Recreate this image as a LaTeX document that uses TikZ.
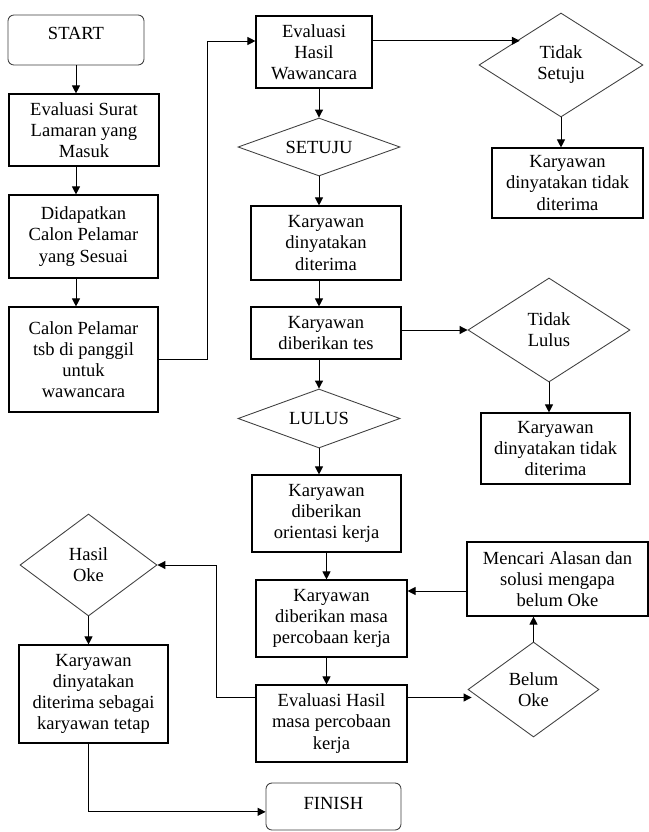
\documentclass[tikz,border=0pt]{standalone}
\usepackage{fontspec}
\setmainfont{Liberation Serif}
\usetikzlibrary{arrows.meta,shapes.geometric}
\tikzset{
  sz/.style 2 args={minimum width=#1*0.75pt, minimum height=#2*0.75pt},
  txt/.style={font=\fontsize{13.9}{15.8}\selectfont, align=center, inner sep=0pt},
  box/.style={txt, draw=black, line width=0.85pt, rectangle},
  term/.style={txt, draw=black!75, line width=0.65pt, rectangle, rounded corners=4.5pt},
  dia/.style={txt, draw=black!75, line width=0.65pt, diamond, shape aspect=2},
  arr/.style={line width=0.75pt, -{Triangle[length=6pt,width=6pt]}},
  ln/.style={line width=0.75pt}
}
\begin{document}
\begin{tikzpicture}[x=0.75pt, y=-0.75pt]
\fill[white] (0,0) rectangle (649,832);
\useasboundingbox (0,0) rectangle (649,832);

% left column
\node[term, sz={136}{50}, text height=9pt, text depth=10.5pt] (start) at (76,40) {START};
\node[box, sz={150}{72}] (b1) at (84,130) {Evaluasi Surat\\Lamaran yang\\Masuk};
\node[box, sz={149}{83}] (b2) at (83.5,236.5) {Didapatkan\\Calon Pelamar\\yang Sesuai};
\node[box, sz={149}{105}] (b3) at (83.5,359.5) {Calon Pelamar\\tsb di panggil\\untuk\\wawancara};

% middle column
\node[box, sz={116}{72}] (b4) at (314,52) {Evaluasi\\Hasil\\Wawancara};
\node[dia, sz={162}{58}] (setuju) at (319,147) {SETUJU};
\node[box, sz={150}{74}] (b5) at (326,243) {Karyawan\\dinyatakan\\diterima};
\node[box, sz={150}{52}] (b6) at (326,333) {Karyawan\\diberikan tes};
\node[dia, sz={162}{59}] (lulus) at (319,418.5) {LULUS};
\node[box, sz={149}{77}] (b7) at (326.5,513.5) {Karyawan\\diberikan\\orientasi kerja};
\node[box, sz={151}{77}] (b8) at (331.5,618.5) {Karyawan\\diberikan masa\\percobaan kerja};
\node[box, sz={151}{77}] (b9) at (331.5,723.5) {Evaluasi Hasil\\masa percobaan\\kerja};
\node[term, sz={135}{47}, text height=9pt, text depth=5.2pt] (fin) at (333.5,806.5) {FINISH};

% right column
\node[dia, sz={164}{104}] (ts) at (561,65) {Tidak\\Setuju};
\node[box, sz={151}{70}] (kt1) at (567.5,183) {Karyawan\\dinyatakan tidak\\diterima};
\node[dia, sz={162}{104}] (tl) at (549,330) {Tidak\\Lulus};
\node[box, sz={149}{71}] (kt2) at (555.5,448.5) {Karyawan\\dinyatakan tidak\\diterima};
\node[box, sz={181}{74}] (mc) at (557.5,579) {Mencari Alasan dan\\solusi mengapa\\belum Oke};
\node[dia, sz={131}{95}] (bo) at (533.5,689.5) {Belum\\Oke};

% bottom left
\node[dia, sz={137}{102}] (ho) at (88.5,565) {Hasil\\Oke};
\node[box, sz={149}{98}] (b10) at (93.5,694) {Karyawan\\dinyatakan\\diterima sebagai\\karyawan tetap};

% helper coordinates
\coordinate (b4in) at ([yshift=8.25pt]b4.west);
\coordinate (tsin) at ([yshift=-1.5pt]ts.north west);
\coordinate (mcout) at ([yshift=-9pt]mc.west);
\coordinate (boin) at ([xshift=3pt,yshift=-6pt]bo.west);

% connectors
\draw[arr] (start.south) -- (start.south |- b1.north);
\draw[arr] (start.south |- b1.south) -- (start.south |- b2.north);
\draw[arr] (start.south |- b2.south) -- (start.south |- b3.north);
\draw[arr] (b3.east) -- ++(49,0) |- (b4in);
\draw[arr] (b4.east |- tsin) -- (tsin);
\draw[arr] (ts.south) -- (ts.south |- kt1.north);
\draw[arr] (setuju.north |- b4.south) -- (setuju.north);
\draw[arr] (setuju.south) -- (setuju.south |- b5.north);
\draw[arr] (setuju.south |- b5.south) -- (setuju.south |- b6.north);
\draw[arr] (b6.east |- tl.west) -- (tl.west);
\draw[arr] (tl.south) -- (tl.south |- kt2.north);
\draw[arr] (lulus.north |- b6.south) -- (lulus.north);
\draw[arr] (lulus.south) -- (lulus.south |- b7.north);
\draw[arr] (b7.south) -- (b7.south |- b8.north);
\draw[arr] (mcout) -- (b8.east |- mcout);
\draw[arr] (bo.north) -- (bo.north |- mc.south);
\draw[arr] (b7.south |- b8.south) -- (b7.south |- b9.north);
\draw[arr] (b9.east |- boin) -- (boin);
\draw[arr] (b9.west |- boin) -- ++(-39,0) |- (ho.east);
\draw[arr] (ho.south) -- (ho.south |- b10.north);
\draw[arr] (ho.south |- b10.south) |- ([yshift=-4pt]fin.west);
\end{tikzpicture}
\end{document}
